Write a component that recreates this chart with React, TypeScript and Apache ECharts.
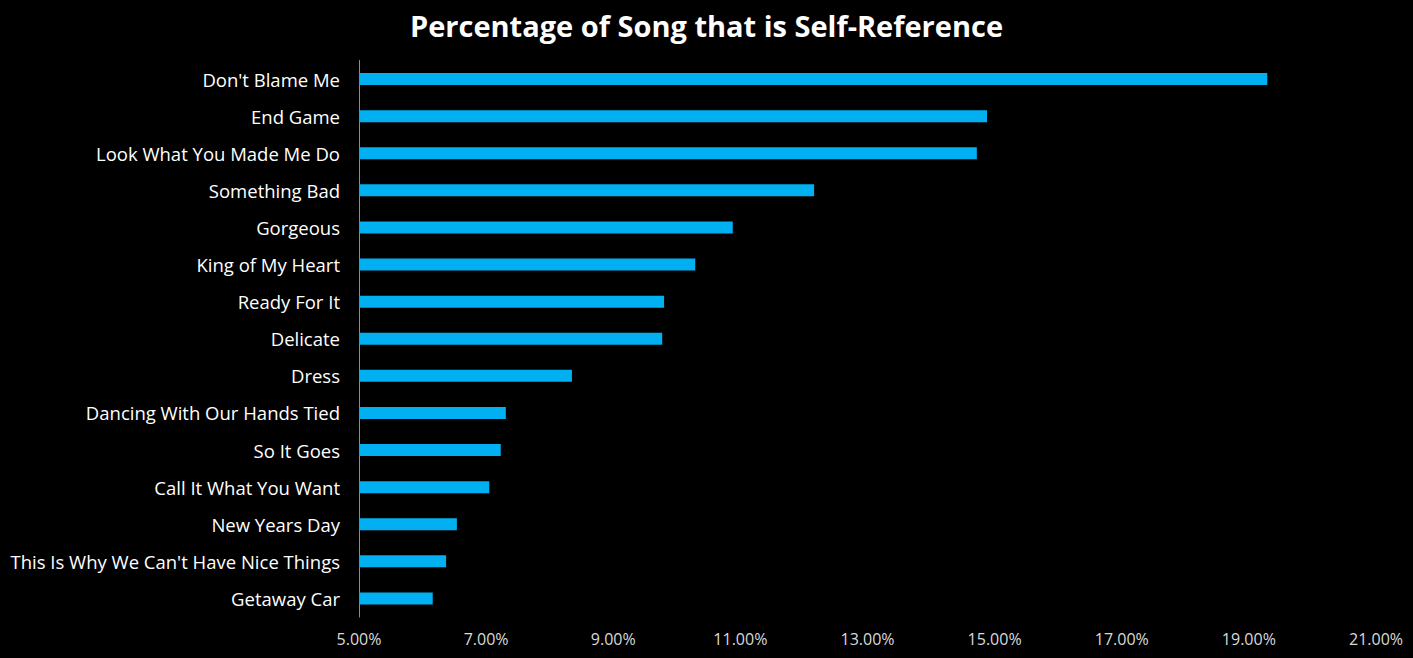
import React, { useEffect, useRef } from "react";
import * as echarts from "echarts";

const songs = [
  "Don't Blame Me",
  "End Game",
  "Look What You Made Me Do",
  "Something Bad",
  "Gorgeous",
  "King of My Heart",
  "Ready For It",
  "Delicate",
  "Dress",
  "Dancing With Our Hands Tied",
  "So It Goes",
  "Call It What You Want",
  "New Years Day",
  "This Is Why We Can't Have Nice Things",
  "Getaway Car",
];
const selfRefPct = [19.29, 14.88, 14.72, 12.16, 10.88, 10.29, 9.8, 9.77, 8.35, 7.31, 7.23, 7.05, 6.54, 6.37, 6.16];
const xMin = 5;
const xMax = 21;
const xStep = 2;
const title = "Percentage of Song that is Self-Reference";

export default function App() {
  const ref = useRef<HTMLDivElement>(null);
  useEffect(() => {
    if (!ref.current) return;
    document.body.style.margin = "0";
    document.body.style.background = "#000";
    const chart = echarts.init(ref.current, null, { renderer: "svg" });
    chart.setOption({
      animation: false,
      backgroundColor: "#000000",
      title: {
        text: title,
        left: "center",
        top: 6,
        textStyle: { color: "#ffffff", fontSize: 29, fontWeight: "bold", fontFamily: "Open Sans" },
      },
      grid: { left: 359, right: 37, top: 60.5, bottom: 41, containLabel: false },
      xAxis: {
        type: "value",
        min: xMin,
        max: xMax,
        interval: xStep,
        axisLine: { show: false },
        axisTick: { show: false },
        splitLine: { show: false },
        axisLabel: {
          color: "#d9d9d9",
          fontSize: 16,
          fontFamily: "Open Sans",
          margin: 14,
          formatter: (v: number) => v.toFixed(2) + "%",
        },
      },
      yAxis: {
        type: "category",
        data: songs,
        inverse: true,
        axisLine: { show: true, lineStyle: { color: "#8c8c8c", width: 1 } },
        axisTick: { show: false },
        axisLabel: { color: "#ffffff", fontSize: 18.5, fontFamily: "Open Sans", margin: 19 },
      },
      series: [
        {
          type: "bar",
          data: selfRefPct,
          barWidth: 12,
          itemStyle: { color: "#00B0F0" },
        },
      ],
    });
    return () => chart.dispose();
  }, []);
  return <div ref={ref} style={{ position: "fixed", left: 0, top: 0, width: 1413, height: 658 }} />;
}
